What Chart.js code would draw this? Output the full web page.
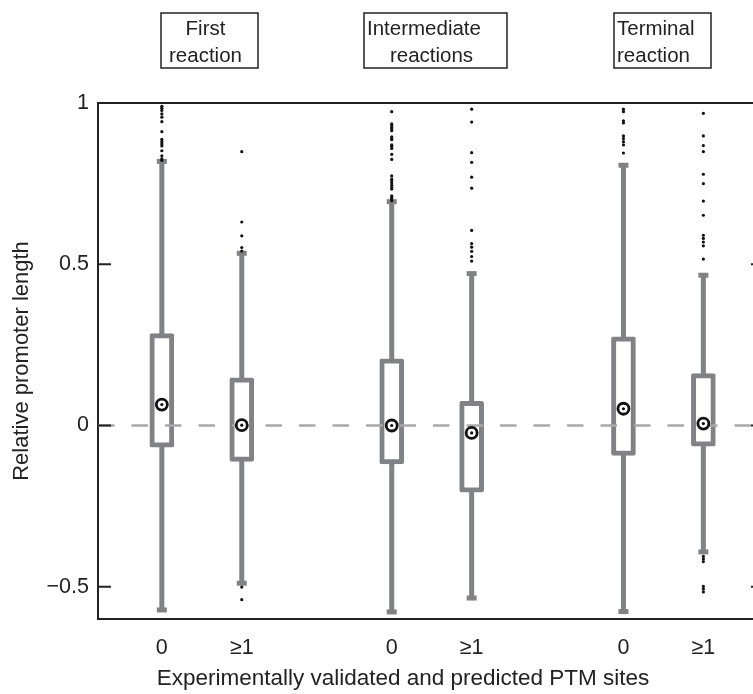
<!DOCTYPE html>
<html>
<head>
<meta charset="utf-8">
<script src="https://cdn.jsdelivr.net/npm/chart.js"></script>
<style>
  html, body { margin: 0; padding: 0; background: #fff; overflow: hidden; }
  #wrap { width: 780px; height: 694px; position: relative; }
</style>
</head>
<body>
<div id="wrap"><canvas id="chart"></canvas></div>
<script>
// groups and box positions
const groupLabels = [['First', 'reaction'], ['Intermediate', 'reactions'], ['Terminal', 'reaction']];
const xTickLabels = ['0', '≥1', '0', '≥1', '0', '≥1'];
const positions = [0.828, 1.176, 1.829, 2.177, 2.838, 3.186];

// box statistics
const whiskerLow  = [-0.572, -0.489, -0.578, -0.535, -0.577, -0.392];
const q1          = [-0.067, -0.111, -0.119, -0.207, -0.093, -0.064];
const medians     = [0.065, 0.001, 0.000, -0.023, 0.052, 0.006];
const q3          = [0.285, 0.148, 0.207, 0.075, 0.275, 0.161];
const whiskerHigh = [0.819, 0.534, 0.694, 0.471, 0.807, 0.466];

// outliers, one list per box
const outliers = [
  [0.990, 0.984, 0.977, 0.966, 0.956, 0.942, 0.911, 0.887, 0.880, 0.873, 0.867, 0.852, 0.836, 0.827, 0.822],
  [0.849, 0.631, 0.588, 0.552, 0.541, -0.501, -0.540],
  [0.973, 0.935, 0.930, 0.924, 0.919, 0.914, 0.895, 0.890, 0.886, 0.870, 0.866, 0.859, 0.841, 0.825,
   0.774, 0.764, 0.759, 0.752, 0.745, 0.738, 0.733, 0.712, 0.707, 0.702, 0.697],
  [0.981, 0.941, 0.846, 0.816, 0.770, 0.736, 0.605, 0.564, 0.553, 0.540, 0.524, 0.510],
  [0.981, 0.973, 0.945, 0.938, 0.898, 0.890, 0.880, 0.870, 0.845],
  [0.968, 0.898, 0.868, 0.849, 0.779, 0.750, 0.696, 0.652, 0.590, 0.580, 0.569, 0.557, 0.516,
   -0.406, -0.414, -0.422, -0.499, -0.507, -0.516]
];

const yTickValues = [-0.5, 0, 0.5, 1];
const yTickLabels = ['\u22120.5', '0', '0.5', '1'];

const xMin = 0.55, xMax = 3.45;
const gray = '#818286';
const ink = '#222';
const font = 'Liberation Sans, Arial, Helvetica, sans-serif';

// whiskers as one broken line
const whiskerPts = [];
positions.forEach((x, i) => {
    whiskerPts.push({x: x, y: whiskerLow[i]}, {x: x, y: whiskerHigh[i]}, {x: x, y: null});
});
const capPts = [];
positions.forEach((x, i) => {
    capPts.push({x: x, y: whiskerLow[i]}, {x: x, y: whiskerHigh[i]});
});
const outlierPts = [];
outliers.forEach((list, i) => list.forEach(v => outlierPts.push({x: positions[i], y: v})));
const medianPts = positions.map((x, i) => ({x: x, y: medians[i]}));

// frame, inward ticks, group boxes and x title
const decorations = {
    id: 'decorations',
    afterDraw(chart) {
        const ctx = chart.ctx;
        const a = chart.chartArea;
        const ys = chart.scales.y;
        ctx.save();
        ctx.strokeStyle = ink;
        ctx.lineWidth = 2;
        ctx.beginPath();
        ctx.moveTo(a.left - 1, a.top);
        ctx.lineTo(a.right, a.top);
        ctx.lineTo(a.right, a.bottom);
        ctx.stroke();
        yTickValues.forEach(v => {
            const y = ys.getPixelForValue(v);
            ctx.beginPath();
            ctx.moveTo(a.left, y); ctx.lineTo(a.left + 13, y);
            ctx.moveTo(a.right - 13, y); ctx.lineTo(a.right, y);
            ctx.stroke();
        });

        // boxed group labels
        const boxLeft = [161, 364, 614];
        const boxWidth = [97, 143, 97];
        const aligns = [['center', 'center'], ['left', 'center'], ['left', 'left']];
        ctx.lineWidth = 1.5;
        ctx.fillStyle = ink;
        ctx.font = '20.5px ' + font;
        ctx.textBaseline = 'alphabetic';
        groupLabels.forEach((lines, g) => {
            ctx.strokeRect(boxLeft[g], 13, boxWidth[g], 55);
            lines.forEach((t, k) => {
                const al = aligns[g][k];
                ctx.textAlign = al;
                const x = al === 'left' ? boxLeft[g] + 3 : boxLeft[g] + boxWidth[g] / 2 - 4;
                ctx.fillText(t, x, 35 + k * 27);
            });
        });

        ctx.font = '22.5px ' + font;
        ctx.textAlign = 'center';
        ctx.textBaseline = 'middle';
        ctx.fillText('Experimentally validated and predicted PTM sites', 403, 679);
        ctx.restore();
    }
};

new Chart(document.getElementById('chart'), {
    type: 'bar',
    data: {
        datasets: [
            {
                type: 'line', data: whiskerPts, order: 6,
                borderColor: gray, borderWidth: 5, borderCapStyle: 'butt',
                pointRadius: 0, spanGaps: false
            },
            {
                type: 'bar', order: 5,
                data: positions.map((x, i) => ({x: x, y: [q1[i], q3[i]]})),
                backgroundColor: '#fff', borderColor: gray, borderWidth: 5,
                borderSkipped: false, borderRadius: 2, barThickness: 24
            },
            {
                type: 'line', order: 4,
                data: [{x: xMin, y: 0}, {x: xMax, y: 0}],
                borderColor: '#a9a9ab', borderWidth: 2.5, borderDash: [16.5, 17],
                pointRadius: 0
            },
            {
                type: 'line', order: 3, data: capPts, showLine: false,
                pointStyle: 'line', pointRadius: 5, pointBorderWidth: 5,
                pointBorderColor: gray
            },
            {
                type: 'line', order: 2, data: outlierPts, showLine: false,
                pointRadius: 1.6, pointBorderWidth: 0, pointBackgroundColor: '#111'
            },
            {
                type: 'line', order: 1, data: medianPts, showLine: false,
                pointRadius: 5.5, pointBorderWidth: 2.8, pointBorderColor: '#111',
                pointBackgroundColor: '#fff'
            },
            {
                type: 'line', order: 0, data: medianPts, showLine: false,
                pointRadius: 1.6, pointBorderWidth: 0, pointBackgroundColor: '#111'
            }
        ]
    },
    options: {
        responsive: true,
        maintainAspectRatio: false,
        animation: false,
        layout: { padding: { top: 103, right: 16, left: 0, bottom: 0 } },
        plugins: { legend: { display: false }, tooltip: { enabled: false } },
        scales: {
            x: {
                type: 'linear', min: xMin, max: xMax, offset: false,
                grid: { display: false, drawTicks: false },
                border: { display: true, color: ink, width: 2 },
                afterBuildTicks: s => { s.ticks = positions.map(v => ({value: v})); },
                afterFit: s => { s.height = 75; },
                ticks: {
                    autoSkip: false, maxRotation: 0, padding: 16, color: ink,
                    font: { family: font, size: 21.5 },
                    callback: (v, i) => xTickLabels[i]
                }
            },
            y: {
                type: 'linear', min: -0.6, max: 1.0,
                grid: { display: false, drawTicks: false },
                border: { display: true, color: ink, width: 2 },
                afterBuildTicks: s => { s.ticks = yTickValues.map(v => ({value: v})); },
                afterFit: s => { s.width = 98; },
                ticks: {
                    padding: 9, color: ink,
                    font: { family: font, size: 21.5 },
                    callback: (v, i) => yTickLabels[i]
                },
                title: {
                    display: true, text: 'Relative promoter length', color: ink,
                    font: { family: font, size: 22 }, padding: { top: 9, bottom: 0 }
                }
            }
        }
    },
    plugins: [decorations]
});
</script>
</body>
</html>
